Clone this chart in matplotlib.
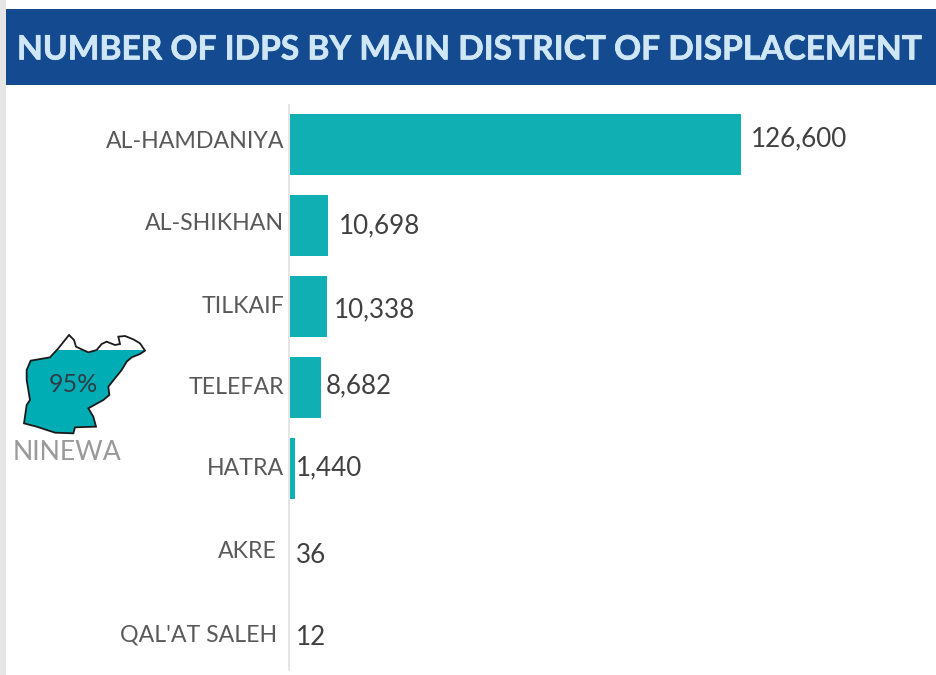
import matplotlib
matplotlib.use("Agg")
import matplotlib.pyplot as plt
import matplotlib.patheffects as pe
from matplotlib.patches import Polygon, Rectangle
from matplotlib.transforms import ScaledTranslation

plt.rcParams['font.family'] = ['Lato', 'DejaVu Sans']

districts = ["AL-HAMDANIYA", "AL-SHIKHAN", "TILKAIF", "TELEFAR", "HATRA", "AKRE", "QAL'AT SALEH"]
idps = [126600, 10698, 10338, 8682, 1440, 36, 12]
title = "NUMBER OF IDPS BY MAIN DISTRICT OF DISPLACEMENT"
map_share = "95%"
map_name = "NINEWA"

W, H = 937, 675
BAR = "#10AFB3"
fig = plt.figure(figsize=(W / 100, H / 100), dpi=100, facecolor="white")

# page overlay in pixel coordinates
bg = fig.add_axes([0, 0, 1, 1], zorder=0)
bg.set_xlim(0, W); bg.set_ylim(H, 0); bg.axis("off")
bg.add_patch(Rectangle((0, 0), 6, H, color="#E6E6E6", lw=0))
bg.add_patch(Rectangle((6, 9), W - 6, 76, color="#134A90", lw=0))
ttl = bg.text(17, 49.5, title, color="#CFE6F5", fontsize=23, fontweight="bold", va="center", ha="left")
ttl.set_path_effects([pe.withStroke(linewidth=0.5, foreground="#CFE6F5")])
# fit the title to the width it takes in the reference (17..921 px)
r = fig.canvas.get_renderer()
ttl.set_fontsize(23 * 908 / ttl.get_window_extent(r).width)

# bar chart
L, T, B = 290, 105, 670
STEP = 81
ax = fig.add_axes([L / W, 1 - B / H, (W - L) / W, (B - T) / H], zorder=1)
ax.patch.set_alpha(0)
ax.set_xlim(0, (W - L) * idps[0] / 451)
ax.set_ylim((B - 145) / STEP, (T - 145) / STEP)
pos = list(range(len(districts)))
ax.barh(pos, idps, height=61 / STEP, color=BAR, linewidth=0)
for s in ("top", "right", "bottom"):
    ax.spines[s].set_visible(False)
ax.spines["left"].set_color("#E0E0E0")
ax.spines["left"].set_linewidth(1.2)
ax.spines["left"].set_position(("outward", 0.7))
ax.set_xticks([])
ax.set_yticks(pos)
ax.set_yticklabels(districts, fontsize=16.7, color="#595959")
ax.tick_params(axis="y", length=0, pad=3.5)

# pixel nudges: x to the right, y downward
label_shift = [(0, -5), (0, -4), (0, -2), (0, -2), (0, -2), (-7, 0), (-7, 2)]
for lab, (dx, dy) in zip(ax.get_yticklabels(), label_shift):
    lab.set_transform(lab.get_transform() + ScaledTranslation(dx / 100, -dy / 100, fig.dpi_scale_trans))

value_shift = [(10, -6), (11, 0), (7, 3), (5, -2), (1, -1), (6, 6), (6, 7)]
for i, v in enumerate(idps):
    dx, dy = value_shift[i]
    ax.annotate(f"{v:,}", (v, i), xytext=(dx * 0.72, -dy * 0.72), textcoords="offset points",
                fontsize=18.7, color="#404040", va="center", ha="left")

# locator map
outline = [(207,45),(222,60),(228,80),(245,88),(265,97),(290,90),(305,72),(320,65),(345,75),(360,72),(355,50),
           (375,48),(400,58),(420,70),(435,92),(420,102),(395,112),(380,125),(365,150),(345,175),(325,200),
           (328,225),(310,240),(265,265),(280,290),(288,320),(225,322),(220,340),(165,338),(110,320),(72,310),
           (80,255),(90,240),(80,180),(80,150),(92,122),(150,112),(175,85)]
pts = [(x / 3, 320 + y / 3) for x, y in outline]
fill = Polygon(pts, closed=True, facecolor="#00ADB5", edgecolor="none", zorder=2)
bg.add_patch(fill)
fill.set_clip_path(Rectangle((0, 350), 200, 120, transform=bg.transData))
bg.add_patch(Polygon(pts, closed=True, facecolor="none", edgecolor="#1A1A1A", lw=1.3, zorder=3))
bg.text(73, 385, map_share, fontsize=18, color="#2F3E46", ha="center", va="center", zorder=4)
bg.text(67, 452, map_name, fontsize=19.2, color="#9A9A9A", ha="center", va="center", zorder=4)

fig.savefig("out.png", dpi=100)
